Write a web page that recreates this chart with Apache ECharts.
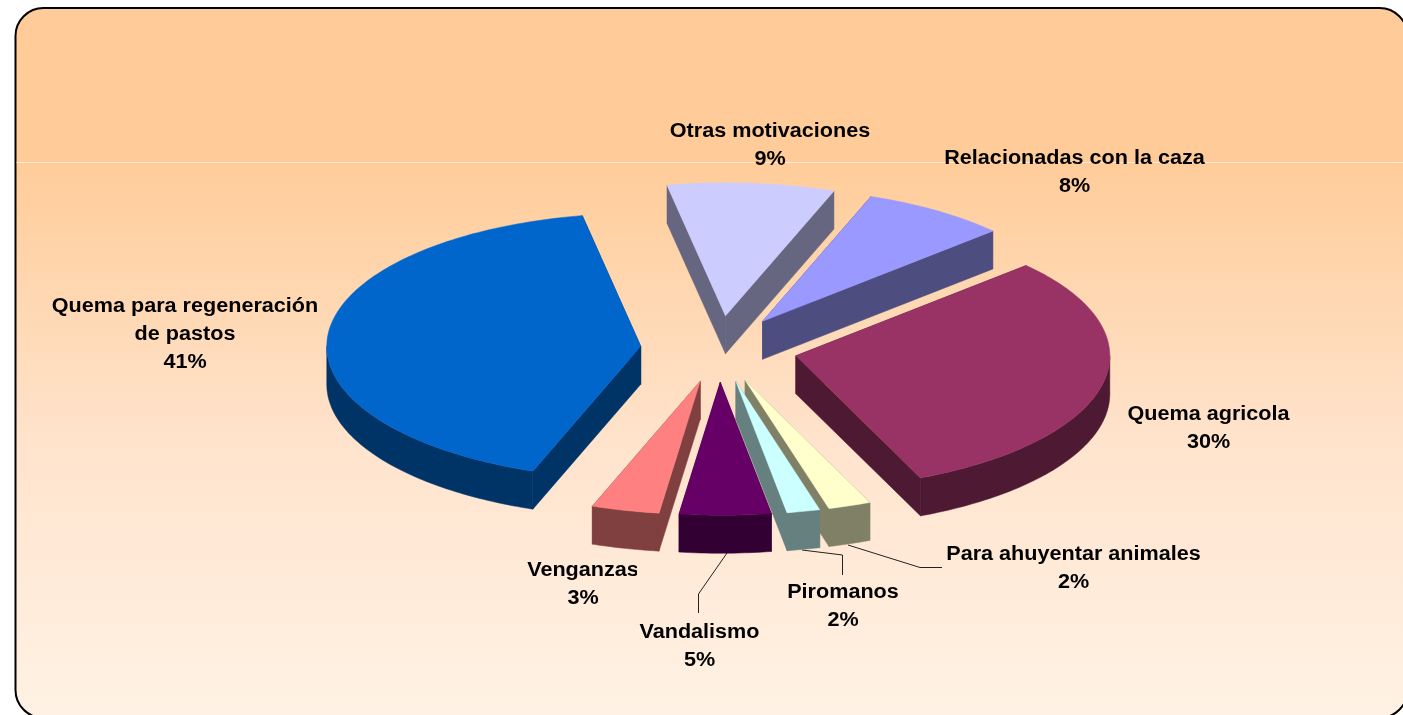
<!DOCTYPE html>
<html>
<head>
<meta charset="utf-8">
<title>Motivaciones</title>
<script src="https://cdn.jsdelivr.net/npm/echarts@6/dist/echarts.min.js"></script>
<style>
  html, body { margin: 0; padding: 0; background: #fff; }
  #chart { width: 1403px; height: 715px; }
</style>
</head>
<body>
<div id="chart"></div>
<script>
// clockwise, starting at the slice after the "Relacionadas" gap
const categories = [
  "Quema agricola",
  "Para ahuyentar animales",
  "Piromanos",
  "Vandalismo",
  "Venganzas",
  "Quema para regeneración\nde pastos",
  "Otras motivaciones",
  "Relacionadas con la caza",
];
// shares, they round to the printed percentages
const values = [30.4, 2.2, 1.7, 4.7, 3.49, 41.45, 8.6, 7.5];
const topColors = ["#993366", "#FFFFCC", "#CCFFFF", "#660066", "#FF8080", "#0066CC", "#CCCCFF", "#9999FF"];
const sideColors = ["#4D1933", "#808066", "#668080", "#330033", "#804040", "#003366", "#666680", "#4D4D80"];

// pie layout (pixels), squashed to look like the 3d original
const cx = 719, cy = 349, rx = 314, ry = 133, depth = 38, explode = 0.25;
const startAngle = -42.8;
// label centre x, first line centre y, clip to the right edge (optional)
const labelPos = [
  { x: 1208.5, y: 414 },
  { x: 1073.5, y: 554 },
  { x: 843, y: 592 },
  { x: 699.5, y: 632 },
  { x: 583, y: 570, clipRight: 637 },
  { x: 185, y: 306, clipRight: 318 },
  { x: 770, y: 131 },
  { x: 1074.5, y: 158.5 },
];
const lineHeight = 28;
const textStretch = 1.08;
const leaderLines = [
  [[848, 545], [920, 567.5], [942, 567.5]],
  [[802, 550], [842.5, 555], [842.5, 575]],
  [[727, 553], [698.5, 594], [698.5, 613]],
];

const total = values.reduce((a, b) => a + b, 0);
const rad = (d) => (d * Math.PI) / 180;

function sliceAngles(i) {
  let a = startAngle;
  for (let k = 0; k < i; k++) a += (values[k] / total) * 360;
  return [a, a + (values[i] / total) * 360];
}

function renderSlice(params, api) {
  const i = params.dataIndex;
  const [a0, a1] = sliceAngles(i);
  const mid = rad((a0 + a1) / 2);
  const ax = cx + rx * explode * Math.cos(mid);
  const ay = cy + ry * explode * Math.sin(mid);
  const pt = (deg) => [ax + rx * Math.cos(rad(deg)), ay + ry * Math.sin(rad(deg))];
  const down = (p) => [p[0], p[1] + depth];

  const arc = [];
  for (let d = a0; d < a1; d += 1) arc.push(pt(d));
  arc.push(pt(a1));

  const side = sideColors[i];
  const children = [];
  const poly = (points, fill) => ({
    type: "polygon",
    shape: { points: points },
    style: { fill: fill, stroke: fill, lineWidth: 0.5 },
  });
  // cut faces
  children.push(poly([[ax, ay], pt(a0), down(pt(a0)), [ax, ay + depth]], side));
  children.push(poly([[ax, ay], pt(a1), down(pt(a1)), [ax, ay + depth]], side));
  // rim, only the part turned to the viewer
  const rim = [];
  for (let d = Math.max(a0, 0); d < Math.min(a1, 180); d += 1) rim.push(pt(d));
  if (rim.length) {
    rim.push(pt(Math.min(a1, 180)));
    children.push(poly(rim.concat(rim.map(down).reverse()), side));
  }
  // top face
  children.push(poly([[ax, ay]].concat(arc), topColors[i]));
  return { type: "group", children: children };
}

function renderLabel(params, api) {
  const i = params.dataIndex;
  const pos = labelPos[i];
  const lines = categories[i].split("\n").concat([Math.round(values[i]) + "%"]);
  return {
    type: "group",
    children: lines.map((line, k) => {
      const el = {
        type: "text",
        x: pos.x,
        y: pos.y + k * lineHeight,
        scaleX: textStretch,
        style: {
          text: line,
          fill: "#000",
          font: "bold 20px 'Liberation Sans', Arial, sans-serif",
          align: "center",
          verticalAlign: "middle",
        },
      };
      if (pos.clipRight) {
        el.clipPath = {
          type: "rect",
          shape: { x: -400, y: -20, width: (pos.clipRight - pos.x) / textStretch + 400, height: 40 },
        };
      }
      return el;
    }),
  };
}

const chart = echarts.init(document.getElementById("chart"));
chart.setOption({
  animation: false,
  graphic: [
    {
      type: "rect",
      z: -10,
      shape: { x: 15.5, y: 8, width: 1392, height: 710, r: 28 },
      style: {
        fill: new echarts.graphic.LinearGradient(0, 0, 0, 1, [
          { offset: 0, color: "#FFCC99" },
          { offset: 0.216, color: "#FFCC99" },
          { offset: 0.626, color: "#FFE4CE" },
          { offset: 1, color: "#FFF2E4" },
        ]),
        stroke: "#000",
        lineWidth: 2,
      },
    },
    {
      type: "line",
      z: -9,
      shape: { x1: 16.5, y1: 162.5, x2: 1403, y2: 162.5 },
      style: { stroke: "#FFEBD8", lineWidth: 1 },
    },
  ].concat(
    leaderLines.map((pts) => ({
      type: "polyline",
      z: 1,
      shape: { points: pts },
      style: { stroke: "#222", lineWidth: 1, fill: null },
    }))
  ),
  series: [
    {
      type: "custom",
      coordinateSystem: "none",
      silent: true,
      clip: false,
      data: values,
      renderItem: renderSlice,
    },
    {
      type: "custom",
      coordinateSystem: "none",
      silent: true,
      clip: false,
      data: values,
      renderItem: renderLabel,
    },
  ],
});
</script>
</body>
</html>
